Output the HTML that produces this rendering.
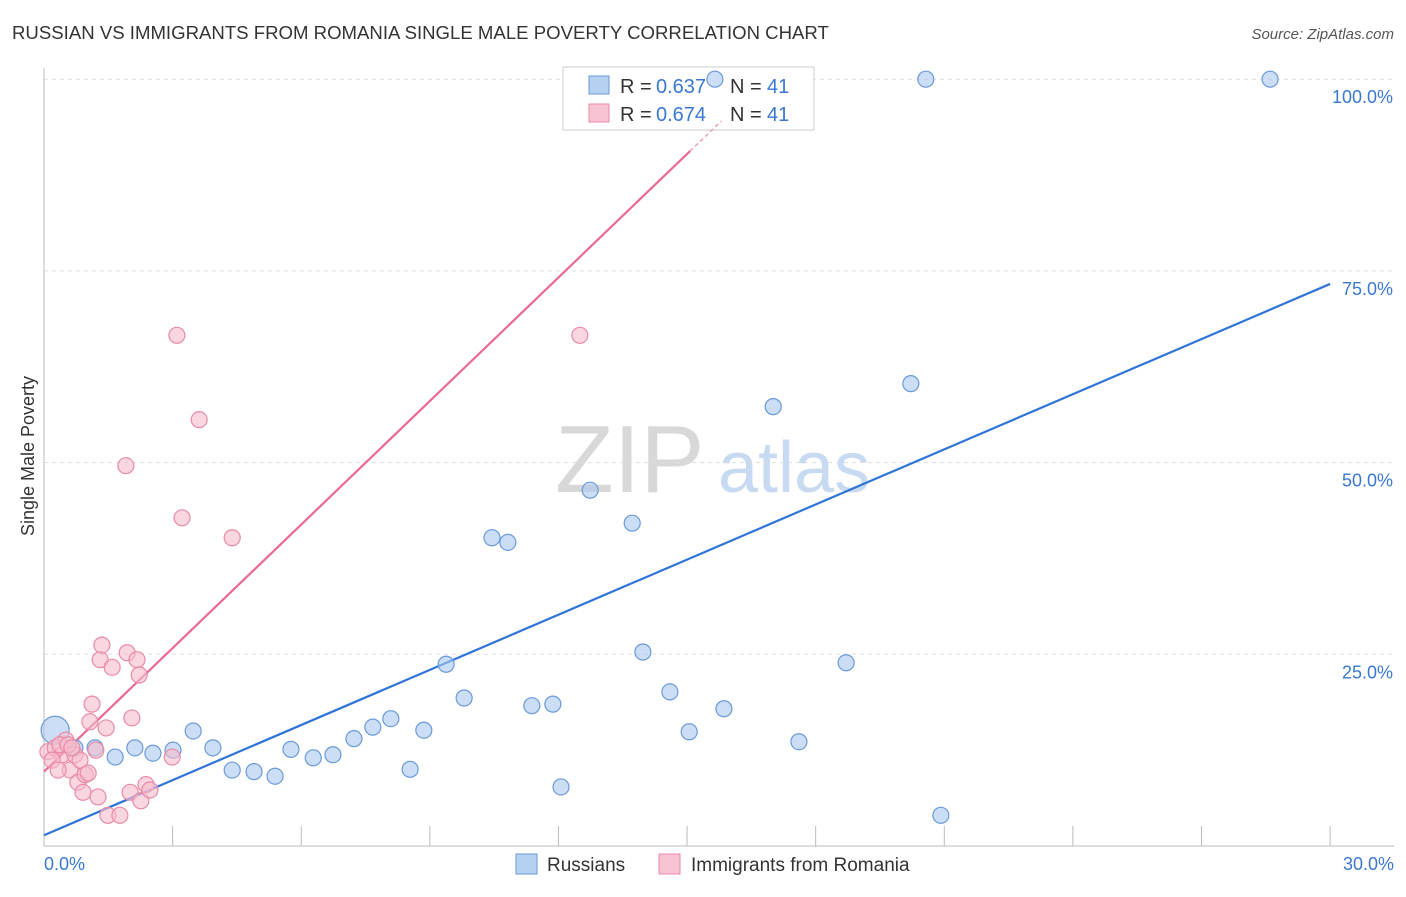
<!DOCTYPE html>
<html><head><meta charset="utf-8"><style>
body{margin:0;background:#fff;font-family:"Liberation Sans",sans-serif}
svg text{font-family:"Liberation Sans",sans-serif}
</style></head><body>
<svg id="chart" width="1406" height="892" viewBox="0 0 1406 892" xmlns="http://www.w3.org/2000/svg">
<text x="12" y="39" font-size="18.6" fill="#333">RUSSIAN VS IMMIGRANTS FROM ROMANIA SINGLE MALE POVERTY CORRELATION CHART</text>
<text x="1394" y="39" font-size="15" fill="#555" font-style="italic" text-anchor="end">Source: ZipAtlas.com</text>
<text x="0" y="0" transform="translate(34,456) rotate(-90)" font-size="18" fill="#333" text-anchor="middle">Single Male Poverty</text>
<g>
<text x="555" y="492" font-size="96" fill="#d8d8d8" font-family="Liberation Serif,serif">ZIP</text>
<text x="718" y="492" font-size="72" fill="#c8daf2">atlas</text>
</g>
<g id="grid"></g>
<g id="axes"></g>
<g>
<rect x="563" y="67" width="251" height="63" fill="#fff" stroke="#ccc"/>
<rect x="589" y="76" width="20" height="18" fill="#b6d0f2" stroke="#6a9ad8"/>
<text x="620" y="93" font-size="20" fill="#333">R = </text><text x="656" y="93" font-size="20" fill="#3a78d0">0.637</text>
<text x="730" y="93" font-size="20" fill="#333">N = </text><text x="767" y="93" font-size="20" fill="#3a78d0">41</text>
<rect x="589" y="104" width="20" height="18" fill="#f9c4d2" stroke="#e88aa6"/>
<text x="620" y="121" font-size="20" fill="#333">R = </text><text x="656" y="121" font-size="20" fill="#3a78d0">0.674</text>
<text x="730" y="121" font-size="20" fill="#333">N = </text><text x="767" y="121" font-size="20" fill="#3a78d0">41</text>
</g>
<g id="lines"></g>
<g id="pts"></g>
<g>
<rect x="516" y="854" width="21" height="20" fill="#b6d0f2" stroke="#6a9ad8"/>
<text x="547" y="871" font-size="19" fill="#333">Russians</text>
<rect x="659" y="854" width="21" height="20" fill="#f9c4d2" stroke="#e88aa6"/>
<text x="691" y="871" font-size="19" fill="#333">Immigrants from Romania</text>
</g>
</svg>
<script>
const yTicks=[25,50,75,100];
const yTickLabels=["25.0%","50.0%","75.0%","100.0%"];
const xTickLabels=["0.0%","30.0%"];
const blueX=[0.26,0.72,1.19,1.66,2.12,2.54,3.01,3.48,3.94,4.39,4.90,5.39,5.76,6.28,6.74,7.23,7.67,8.09,8.54,8.86,9.38,9.80,10.45,10.82,11.38,11.87,12.06,12.74,13.72,13.97,14.60,15.05,15.65,15.86,17.01,17.61,18.71,20.22,20.57,20.92,28.60];
const blueY=[15.1,12.8,12.8,11.6,12.8,12.1,12.5,15.0,12.8,9.9,9.7,9.1,12.6,11.5,11.9,14.0,15.5,16.6,10.0,15.1,23.7,19.3,40.2,39.6,18.3,18.5,7.7,46.4,42.1,25.3,20.1,14.9,100,17.9,57.3,13.6,23.9,60.3,100,4.0,100];
const pinkX=[0.09,0.26,0.42,0.51,0.61,0.72,0.84,0.79,0.91,0.96,1.03,1.07,1.12,1.21,1.26,1.31,1.35,1.45,1.49,1.59,1.77,1.91,1.94,2.01,2.05,2.17,2.22,2.26,2.38,2.47,2.99,3.10,3.22,3.62,4.39,12.50,0.37,0.56,0.65,0.19,0.33];
const pinkY=[12.3,12.8,11.9,13.8,9.9,11.9,11.2,8.3,7.0,9.3,9.5,16.2,18.5,12.5,6.4,24.3,26.2,15.4,4.0,23.3,4.0,49.6,25.2,7.0,16.7,24.3,22.3,5.9,8.0,7.3,11.6,66.6,42.8,55.6,40.2,66.6,13.2,13.2,12.8,11.2,9.9];
const blueTrend=[1.4,73.3];
const pinkTrend=[9.7,5.37];
const NS="http://www.w3.org/2000/svg";
const X=v=>44+v*42.87, Y=v=>846-v*7.668;
function mk(p,t,a){const e=document.createElementNS(NS,t);for(const k in a)e.setAttribute(k,a[k]);p.appendChild(e);return e;}
const grid=document.getElementById('grid'),axes=document.getElementById('axes'),lines=document.getElementById('lines'),pts=document.getElementById('pts');
yTicks.forEach((t,i)=>{
 const l=mk(grid,'line',{x1:44,x2:1394,y1:Y(t),y2:Y(t),stroke:'#ddd','stroke-dasharray':'4,4'});
 
 
 const tx=mk(axes,'text',{x:1393,y:Y(t)+24,'font-size':18,fill:'#3a78d0','text-anchor':'end'});
 tx.textContent=yTickLabels[i];
 
 
});
mk(axes,'line',{x1:44,x2:44,y1:68,y2:846,stroke:'#bbb'});
mk(axes,'line',{x1:44,x2:1394,y1:846,y2:846,stroke:'#bbb'});
for(let i=1;i<=10;i++){const t=mk(axes,'line',{x1:X(i*3),x2:X(i*3),y1:826,y2:846,stroke:'#bbb'});
 
 }
const a=mk(axes,'text',{x:44,y:870,'font-size':18,fill:'#3a78d0'});a.textContent=xTickLabels[0];


const b=mk(axes,'text',{x:1394,y:870,'font-size':18,fill:'#3a78d0','text-anchor':'end'});b.textContent=xTickLabels[1];


function dot(x,y,r,f,s,n){const c=mk(pts,'circle',{cx:X(x),cy:Y(y),r:r,fill:f,'fill-opacity':0.6,stroke:s,'stroke-width':1.2});
 
 }
blueX.forEach((x,i)=>dot(x,blueY[i],i==0?14:8,'#a9c8f0','#6a9ad8','russians-point'));
pinkX.forEach((x,i)=>dot(x,pinkY[i],8,'#f7bccb','#e88aa6','romania-point'));
const bl=mk(lines,'line',{x1:X(0),y1:Y(blueTrend[0]),x2:X(30),y2:Y(blueTrend[1]),stroke:'#2f74d6','stroke-width':2.2});


const pl=mk(lines,'line',{x1:X(0),y1:Y(pinkTrend[0]),x2:X(15.07),y2:Y(pinkTrend[0]+pinkTrend[1]*15.07),stroke:'#e86a93','stroke-width':2.2});


const pd=mk(lines,'line',{x1:X(15.07),y1:Y(pinkTrend[0]+pinkTrend[1]*15.07),x2:X(15.8),y2:Y(pinkTrend[0]+pinkTrend[1]*15.8),stroke:'#e8a0b8','stroke-width':1.5,'stroke-dasharray':'4,3'});


</script>
</body></html>
